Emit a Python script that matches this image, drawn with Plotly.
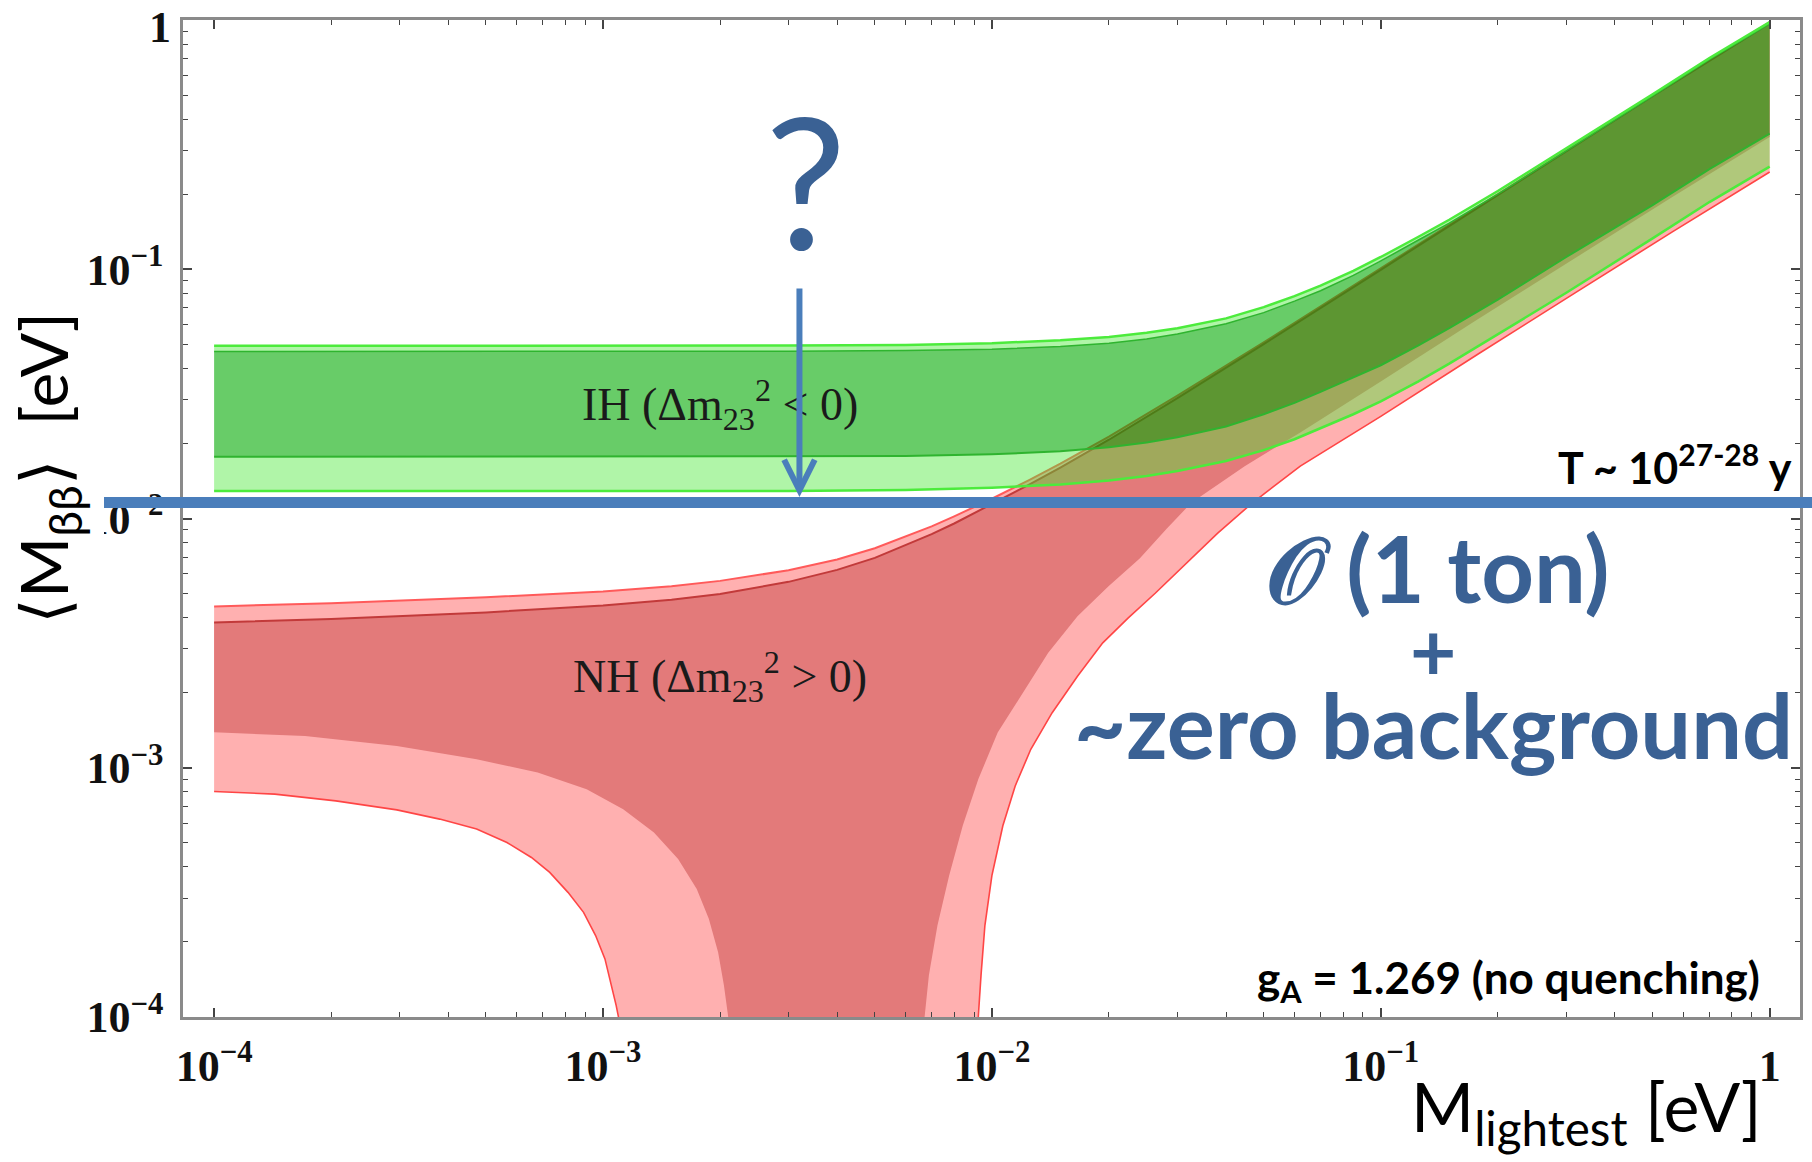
import math
import plotly.graph_objects as go

# ---------------- data (values in eV) ----------------
# Inverted hierarchy band
ih_m = [1e-4, 1e-3, 3e-3, 6e-3, 0.01, 0.015, 0.02, 0.025, 0.03, 0.04, 0.05, 0.06, 0.07, 0.085, 0.1,
        0.125, 0.15, 0.2, 0.3, 0.5, 0.7, 1.0]
ih_outer_top = [0.0493, 0.0493, 0.0494, 0.0497, 0.0505, 0.0519, 0.0535, 0.0556, 0.0580, 0.0635, 0.0705,
                0.0780, 0.0860, 0.0985, 0.112, 0.135, 0.158, 0.206, 0.305, 0.503, 0.703, 0.980]
ih_inner_top = [0.0468, 0.0468, 0.0469, 0.0472, 0.0478, 0.0490, 0.0505, 0.0525, 0.0550, 0.0605, 0.0670,
                0.0745, 0.0820, 0.0945, 0.108, 0.131, 0.153, 0.200, 0.298, 0.495, 0.693, 0.965]
ih_inner_bot = [0.0177, 0.0177, 0.0177, 0.0178, 0.0181, 0.0186, 0.0193, 0.0202, 0.0212, 0.0234, 0.0262,
                0.0291, 0.0322, 0.0368, 0.0412, 0.0495, 0.0580, 0.0755, 0.112, 0.181, 0.252, 0.350]
ih_outer_bot = [0.0129, 0.0129, 0.0129, 0.0130, 0.0133, 0.0137, 0.0142, 0.0148, 0.0155, 0.0170, 0.0188,
                0.0208, 0.0230, 0.0262, 0.0295, 0.0355, 0.0418, 0.0548, 0.0805, 0.133, 0.186, 0.258]

# Normal hierarchy band: upper edges
nh_top_m = [1e-4, 2e-4, 5e-4, 1e-3, 1.5e-3, 2e-3, 3e-3, 4e-3, 5e-3, 6e-3, 7e-3, 8e-3, 0.01, 0.0125,
            0.015, 0.02, 0.03, 0.05, 0.1, 0.2, 0.5, 1.0]
nh_outer_top = [0.00444, 0.00457, 0.00483, 0.00510, 0.00535, 0.00562, 0.00620, 0.00685, 0.00760, 0.00845,
                0.00930, 0.0102, 0.0120, 0.0143, 0.0166, 0.0213, 0.0311, 0.0509, 0.1005, 0.200, 0.500, 0.980]
nh_inner_top = [0.00383, 0.00395, 0.00420, 0.00448, 0.00472, 0.00498, 0.00557, 0.00622, 0.00695, 0.00780,
                0.00865, 0.00955, 0.0114, 0.0137, 0.0160, 0.0207, 0.0304, 0.0501, 0.0995, 0.198, 0.495, 0.970]

# Normal hierarchy band: lower edges (left branch drops off the chart, right branch comes back up)
nh_outer_low_left_m = [1e-4, 1.432e-4, 2.056e-4, 2.951e-4, 3.802e-4, 4.732e-4, 5.662e-4, 6.546e-4, 7.295e-4,
                       8.128e-4, 8.913e-4, 9.572e-4, 1.0116e-3, 1.047e-3, 1.081e-3, 1.096e-3, 1.109e-3]
nh_outer_low_left = [8.035e-4, 7.834e-4, 7.362e-4, 6.776e-4, 6.223e-4, 5.675e-4, 5.012e-4, 4.365e-4, 3.802e-4,
                     3.162e-4, 2.630e-4, 2.123e-4, 1.710e-4, 1.380e-4, 1.114e-4, 1.0e-4, 5.0e-5]

nh_inner_low_left_m = [1e-4, 1.714e-4, 2.951e-4, 4.732e-4, 6.792e-4, 9.078e-4, 1.127e-3, 1.352e-3, 1.560e-3,
                       1.742e-3, 1.871e-3, 1.977e-3, 2.046e-3, 2.099e-3, 2.128e-3]
nh_inner_low_left = [1.387e-3, 1.340e-3, 1.222e-3, 1.081e-3, 9.572e-4, 8.204e-4, 6.823e-4, 5.495e-4, 4.305e-4,
                     3.266e-4, 2.477e-4, 1.820e-4, 1.340e-4, 1.0e-4, 5.0e-5]

nh_inner_low_right_m = [6.607e-3, 6.714e-3, 6.887e-3, 7.244e-3, 7.762e-3, 8.414e-3, 9.226e-3, 1.035e-2,
                        1.202e-2, 1.396e-2, 1.660e-2, 1.995e-2, 2.399e-2, 2.818e-2, 3.258e-2, 4.467e-2,
                        6.209e-2, 0.100, 0.178, 0.316, 0.562, 1.0]
nh_inner_low_right = [5.0e-5, 1.0e-4, 1.469e-4, 2.328e-4, 3.690e-4, 5.848e-4, 8.995e-4, 1.384e-3, 2.0e-3,
                      2.891e-3, 4.055e-3, 5.346e-3, 6.918e-3, 9.120e-3, 1.156e-2, 1.622e-2, 2.213e-2,
                      3.548e-2, 0.0631, 0.111, 0.195, 0.339]

nh_outer_low_right_m = [9.120e-3, 9.226e-3, 9.376e-3, 9.594e-3, 1.0e-2, 1.067e-2, 1.148e-2, 1.259e-2, 1.429e-2,
                        1.660e-2, 1.928e-2, 2.239e-2, 2.630e-2, 3.162e-2, 3.802e-2, 4.677e-2, 6.209e-2,
                        0.100, 0.178, 0.316, 0.562, 1.0]
nh_outer_low_right = [5.0e-5, 1.0e-4, 1.469e-4, 2.328e-4, 3.690e-4, 5.848e-4, 8.453e-4, 1.186e-3, 1.663e-3,
                      2.328e-3, 3.170e-3, 3.981e-3, 5.012e-3, 6.607e-3, 8.710e-3, 1.156e-2, 1.622e-2,
                      2.570e-2, 4.571e-2, 8.035e-2, 0.1413, 0.2455]

sensitivity_level = 0.0116   # blue horizontal line, T ~ 10^27-28 y
arrow_m = 0.0032             # position of the "?" arrow

x_tickvals = [1e-4, 1e-3, 1e-2, 1e-1, 1]
x_ticktext = ["<b>10<sup>\u22124</sup></b>", "<b>10<sup>\u22123</sup></b>", "<b>10<sup>\u22122</sup></b>",
              "<b>10<sup>\u22121</sup></b>", "<b>1</b>"]
y_tickvals = [1e-4, 1e-3, 1e-2, 1e-1, 1]
y_ticktext = ["<b>10<sup>\u22124</sup></b>", "<b>10<sup>\u22123</sup></b>", "<b>10<sup>\u22122</sup></b>",
              "<b>10<sup>\u22121</sup></b>", ""]
y_top_label = "<b>1</b>"
minor_vals = [k * 10.0 ** e for e in range(-4, 0) for k in range(2, 10)]

# ---------------- figure ----------------
W_FIG, H_FIG = 1812, 1162
L, R, T, B = 183, 12, 20, 145
PW, PH = W_FIG - L - R, H_FIG - T - B


def px(x):
    return (x - L) / PW


def py(y):
    return 1 - (y - T) / PH


fig = go.Figure()


def poly(xs, ys, color):
    fig.add_trace(go.Scatter(x=xs, y=ys, mode="lines", fill="toself", fillcolor=color,
                             line=dict(width=0), hoverinfo="skip", showlegend=False))


def edge(xs, ys, color, width):
    fig.add_trace(go.Scatter(x=xs, y=ys, mode="lines", line=dict(color=color, width=width),
                             hoverinfo="skip", showlegend=False))


PINK = "#FFB0B0"
SALMON = "#E37A7A"
GREEN_LIGHT = "rgba(71,232,53,0.43)"
GREEN_INNER = "rgba(0,169,0,0.594)"

# NH outer (light pink)
poly(nh_top_m + nh_outer_low_right_m[::-1] + nh_outer_low_left_m[::-1],
     nh_outer_top + nh_outer_low_right[::-1] + nh_outer_low_left[::-1], PINK)
# NH inner (salmon)
poly(nh_top_m + nh_inner_low_right_m[::-1] + nh_inner_low_left_m[::-1],
     nh_inner_top + nh_inner_low_right[::-1] + nh_inner_low_left[::-1], SALMON)
# NH edges
edge(nh_top_m, nh_outer_top, "#FF5A5A", 2)
edge(nh_top_m, nh_inner_top, "#C23A3A", 2)
edge(nh_outer_low_left_m, nh_outer_low_left, "#FF4545", 1.6)
edge(nh_outer_low_right_m, nh_outer_low_right, "#FF4545", 1.6)

# IH light strips and inner band
poly(ih_m + ih_m[::-1], ih_outer_top + ih_inner_top[::-1], GREEN_LIGHT)
poly(ih_m + ih_m[::-1], ih_inner_bot + ih_outer_bot[::-1], GREEN_LIGHT)
poly(ih_m + ih_m[::-1], ih_inner_top + ih_inner_bot[::-1], GREEN_INNER)
edge(ih_m, ih_inner_top, "#2FB42F", 1.5)
edge(ih_m, ih_inner_bot, "#2FB42F", 2)
edge(ih_m, ih_outer_top, "#4CEB3C", 2.5)
edge(ih_m, ih_outer_bot, "#4CEB3C", 2.5)

SERIF = "Liberation Serif, Times New Roman, serif"
SANS = "Lato, Open Sans, sans-serif"
TICKFONT = dict(family=SERIF, size=44, color="#111")
axis_common = dict(type="log", showgrid=False, zeroline=False, showline=True, linecolor="#8a8a8a",
                   linewidth=2.5, mirror="ticks", ticks="inside", ticklen=9, tickwidth=1.6,
                   tickcolor="#444", tickfont=TICKFONT, tickmode="array", ticklabeloverflow="allow",
                   automargin=False,
                   minor=dict(tickmode="array", tickvals=minor_vals, ticks="inside", ticklen=5,
                              tickwidth=1.3, tickcolor="#444", showgrid=False))

fig.update_xaxes(range=[-4.08, 0.078], tickvals=x_tickvals, ticktext=x_ticktext,
                 ticklabelstandoff=8, **axis_common)
fig.update_yaxes(range=[-4.0, 0.0], tickvals=y_tickvals, ticktext=y_ticktext,
                 ticklabelstandoff=8, **axis_common)

BLUE_LINE = "#4A7EBB"
BLUE_TEXT = "#3A6194"

shapes = [
    dict(type="rect", xref="paper", yref="paper", x0=px(60), x1=px(104), y0=py(545), y1=py(478),
         fillcolor="white", line=dict(width=0), layer="above"),
    dict(type="line", xref="paper", yref="y", x0=px(104), x1=px(1812),
         y0=sensitivity_level, y1=sensitivity_level, line=dict(color=BLUE_LINE, width=11), layer="above"),
]

annotations = [
    dict(text=y_top_label, x=px(173), y=py(27), xref="paper", yref="paper", showarrow=False,
         font=TICKFONT, xanchor="right", yanchor="middle"),
    dict(text="IH (\u0394m<sub>23</sub><sup>2</sup> < 0)", x=px(720), y=py(405), xref="paper", yref="paper",
         showarrow=False, font=dict(family=SERIF, size=46, color="#1a1a1a"), xanchor="center", yanchor="middle"),
    dict(text="NH (\u0394m<sub>23</sub><sup>2</sup> > 0)", x=px(720), y=py(676), xref="paper", yref="paper",
         showarrow=False, font=dict(family=SERIF, size=46, color="#1a1a1a"), xanchor="center", yanchor="middle"),
    dict(text="?", x=px(805), y=py(179), xref="paper", yref="paper", showarrow=False,
         font=dict(family=SANS, size=182, color=BLUE_TEXT), xanchor="center", yanchor="middle"),
    dict(text="", x=math.log10(arrow_m), y=py(497), xref="x", yref="paper", showarrow=True, ax=0, ay=-210,
         arrowhead=5, arrowsize=1, arrowwidth=6, arrowcolor=BLUE_LINE, standoff=0),
    dict(text="<b>\U0001D4AA (1 ton)</b>", x=px(1438), y=py(567), xref="paper", yref="paper", showarrow=False,
         font=dict(family=SANS, size=92, color=BLUE_TEXT), xanchor="center", yanchor="middle"),
    dict(text="<b>+</b>", x=px(1433), y=py(650), xref="paper", yref="paper", showarrow=False,
         font=dict(family=SANS, size=80, color=BLUE_TEXT), xanchor="center", yanchor="middle"),
    dict(text="<b>~zero background</b>", x=px(1433), y=py(724), xref="paper", yref="paper", showarrow=False,
         font=dict(family=SANS, size=90, color=BLUE_TEXT), xanchor="center", yanchor="middle"),
    dict(text="<b>T ~ 10<sup>27-28</sup> y</b>", x=px(1794), y=py(464), xref="paper", yref="paper",
         showarrow=False, font=dict(family=SANS, size=43, color="black"), xanchor="right", yanchor="middle"),
    dict(text="<b>g<sub>A</sub> = 1.269 (no quenching)</b>", x=px(1762), y=py(980), xref="paper", yref="paper",
         showarrow=False, font=dict(family=SANS, size=44, color="black"), xanchor="right", yanchor="middle"),
    dict(text="M<sub>lightest</sub> [eV]", x=px(1764), y=py(1110), xref="paper", yref="paper",
         showarrow=False, font=dict(family=SANS, size=68, color="black"), xanchor="right", yanchor="middle"),
    dict(text="\u27E8M<sub>\u03B2\u03B2</sub>\u27E9  [eV]", x=px(48), y=py(468), xref="paper", yref="paper",
         showarrow=False, textangle=-90, font=dict(family=SANS, size=66, color="black"),
         xanchor="center", yanchor="middle"),
]

fig.update_layout(width=W_FIG, height=H_FIG, margin=dict(l=L, r=R, t=T, b=B, autoexpand=False),
                  paper_bgcolor="white", plot_bgcolor="white", showlegend=False,
                  shapes=shapes, annotations=annotations)

fig.write_html("out.html")
